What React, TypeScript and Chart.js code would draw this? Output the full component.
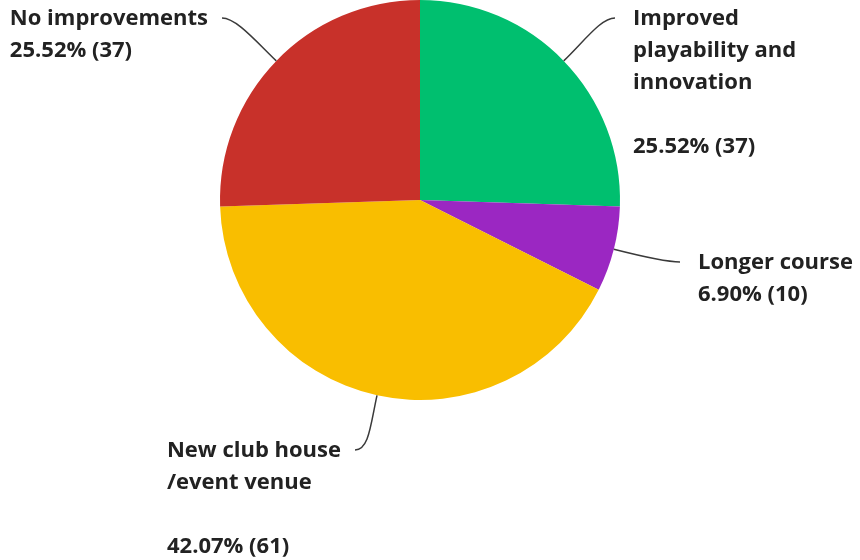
import React, { useEffect, useRef } from "react";
import { Chart, registerables } from "chart.js";

Chart.register(...registerables);

const categories = [
  "Improved playability and innovation",
  "Longer course",
  "New club house /event venue",
  "No improvements",
];
const responses = [37, 10, 61, 37];
const labelLines = [
  ["Improved", "playability and", "innovation"],
  ["Longer course"],
  ["New club house", "/event venue"],
  ["No improvements"],
];
const blankBeforePercent = [true, false, true, false];
const colors = ["#00BF6F", "#9B27C2", "#F9BE00", "#C8312A"];

// leader-line end point relative to pie centre, and which side the text sits on
const leaderEnds = [
  { dx: 195, dy: -182, side: "right" },
  { dx: 260, dy: 62, side: "right" },
  { dx: -65, dy: 250, side: "left" },
  { dx: -198, dy: -182, side: "left" },
];

const FONT = "bold 22px 'Open Sans'";
const LINE_H = 32;

const labelPlugin = {
  id: "pieLabels",
  afterDraw(chart: any) {
    const ctx = chart.ctx;
    const meta = chart.getDatasetMeta(0);
    const data = chart.data.datasets[0].data as number[];
    const total = data.reduce((a, b) => a + b, 0);
    ctx.save();
    ctx.font = FONT;
    ctx.fillStyle = "#222222";
    ctx.textBaseline = "middle";
    meta.data.forEach((arc: any, i: number) => {
      const p = arc.getProps(["x", "y", "startAngle", "endAngle", "outerRadius"], true);
      const mid = (p.startAngle + p.endAngle) / 2;
      const sx = p.x + Math.cos(mid) * p.outerRadius;
      const sy = p.y + Math.sin(mid) * p.outerRadius;
      const le = leaderEnds[i];
      const ex = p.x + le.dx;
      const ey = p.y + le.dy;
      const dirX = le.side === "right" ? 1 : -1;
      // leader line
      ctx.beginPath();
      ctx.strokeStyle = "#3a3a3a";
      ctx.lineWidth = 1.5;
      ctx.moveTo(sx, sy);
      ctx.bezierCurveTo(
        sx + Math.cos(mid) * 30,
        sy + Math.sin(mid) * 30,
        ex - dirX * 14,
        ey,
        ex,
        ey
      );
      ctx.stroke();
      // text
      const pct = ((data[i] / total) * 100).toFixed(2) + "% (" + data[i] + ")";
      const lines = [...labelLines[i]];
      if (blankBeforePercent[i]) lines.push("");
      lines.push(pct);
      const widths = labelLines[i].map((l) => ctx.measureText(l).width);
      const maxW = Math.max(...widths);
      const left = le.side === "right" ? ex + 18 : ex - 14 - maxW;
      ctx.textAlign = "left";
      lines.forEach((l, k) => {
        if (l) ctx.fillText(l, left, ey + 1 + k * LINE_H);
      });
    });
    ctx.restore();
  },
};

export default function App() {
  const ref = useRef<HTMLCanvasElement | null>(null);
  useEffect(() => {
    if (!ref.current) return;
    const chart = new Chart(ref.current, {
      type: "pie",
      data: {
        labels: categories,
        datasets: [
          {
            data: responses,
            backgroundColor: colors,
            borderWidth: 0,
          },
        ],
      },
      options: {
        responsive: false,
        animation: false,
        layout: { padding: { left: 220, right: 240, top: 0, bottom: 160 } },
        plugins: {
          legend: { display: false },
          tooltip: { enabled: false },
        },
      },
      plugins: [labelPlugin],
    });
    return () => chart.destroy();
  }, []);
  return (
    <div style={{ position: "fixed", left: 0, top: 0, width: 860, height: 560, background: "#fff" }}>
      <canvas ref={ref} width={860} height={560} />
    </div>
  );
}
